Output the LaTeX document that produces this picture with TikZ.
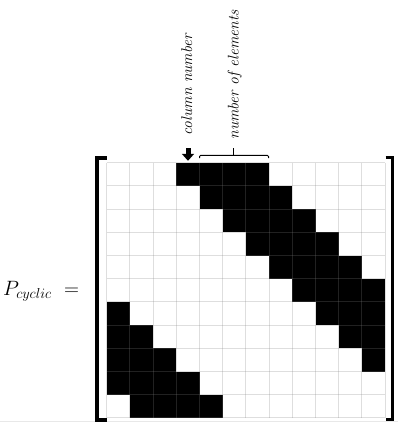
\documentclass[tikz,border=0pt]{standalone}
\usetikzlibrary{arrows.meta}
\begin{document}
\begin{tikzpicture}[x=1pt,y=-1pt,
  cellfill/.style={fill=black},
  gridline/.style={draw=gray,draw opacity=0.26,line width=0.9pt},
  bracketline/.style={line width=3.5pt,line cap=butt,line join=miter},
  labeltext/.style={font=\fontsize{15.5}{18}\selectfont\itshape,inner sep=0pt,rotate=90,anchor=base west},
  bracelike/.style={line width=1pt,rounded corners=1.2pt},
  bigarrow/.style={line width=5pt,-{Triangle[width=12pt,length=7pt]}}]
\useasboundingbox (0,0) rectangle (398,423);
\def\L{106.7}\def\T{162.7}\def\c{23.2}
% faint bottom line
\draw[gray!18,line width=0.8pt] (0,421.3) -- (398,421.3);
% black cells (cyclic band)
\foreach \r in {0,...,10}{
  \foreach \k in {3,...,6}{
    \pgfmathtruncatemacro\cc{mod(\r+\k,12)}
    \fill[cellfill] (\L+\cc*\c,\T+\r*\c) rectangle ++(\c,\c);
  }
}
% grid lines
\foreach \i in {0,...,12}{
  \draw[gridline] (\L+\i*\c,\T) -- (\L+\i*\c,\T+11*\c);
}
\foreach \j in {0,...,11}{
  \draw[gridline] (\L,\T+\j*\c) -- (\L+12*\c,\T+\j*\c);
}
% matrix brackets
\draw[bracketline] (106.7,158) -- (97,158) -- (97,420) -- (106.7,420);
\draw[bracketline] (385.5,157.6) -- (392.6,157.6) -- (392.6,419.6) -- (385.5,419.6);
% label P_cyclic
\node[anchor=base west,inner sep=0pt,font=\fontsize{22}{26}\selectfont] (plabel) at (3,295) {$P_{cyclic}\ =$};
% column number label and arrow
\node[labeltext] (colnum) at (192,135.5) {column number};
\coordinate (arrowtop) at (188,148);
\coordinate (celltop) at (188,160.8);
\draw[bigarrow] (arrowtop) -- (celltop);
% number of elements label and brace
\node[labeltext] (numel) at (238.5,139.5) {number of elements};
\coordinate (bl) at (199.5,158.2);
\coordinate (br) at (268.5,158.2);
\coordinate (bm) at (233.5,155.3);
\draw[bracelike] (bl) -- (199.5,155.3) -- (268.5,155.3) -- (br);
\draw[line width=1pt] (bm) -- (233.5,147.5);
\end{tikzpicture}
\end{document}
